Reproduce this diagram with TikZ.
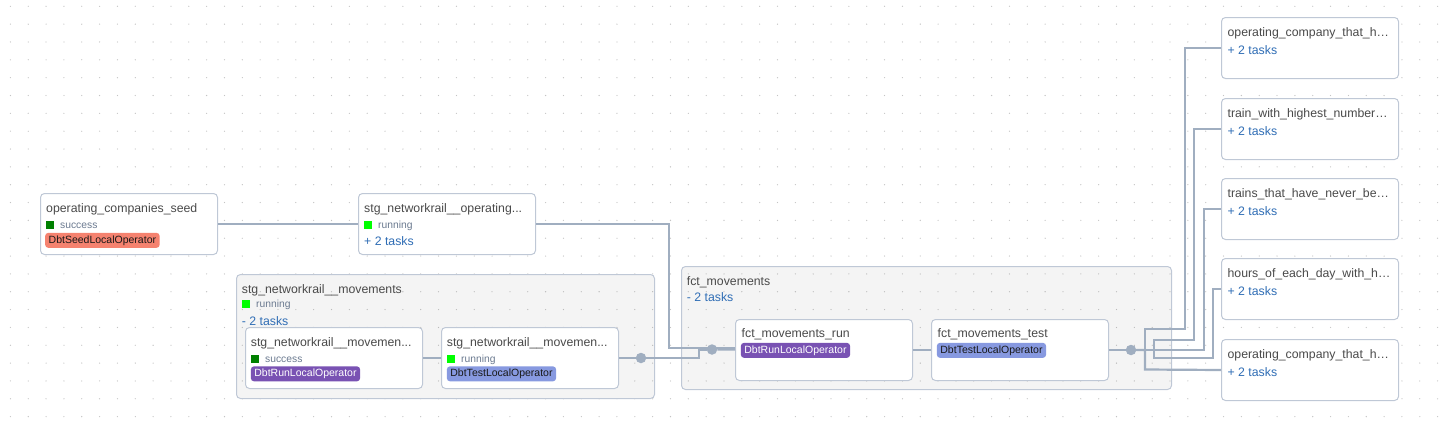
\documentclass[tikz,border=0pt]{standalone}
\usepackage{fontspec}
\setmainfont{Liberation Sans}
\usetikzlibrary{positioning}
\definecolor{dotgray}{HTML}{C4C4C4}
\definecolor{boxgray}{HTML}{BFC8D6}
\definecolor{edgegray}{HTML}{A0AEC0}
\definecolor{titlegray}{HTML}{4A4A4A}
\definecolor{statusgray}{HTML}{6B7A90}
\definecolor{linkblue}{HTML}{2F6DB5}
\definecolor{okgreen}{HTML}{008000}
\definecolor{rungreen}{HTML}{00FF00}
\definecolor{seedop}{HTML}{F5826F}
\definecolor{runop}{HTML}{7952B3}
\definecolor{testop}{HTML}{8799E0}
\newcommand{\stsq}[1]{\textcolor{#1}{\rule[-0.8pt]{8pt}{8pt}}\hspace{6.3pt}}
\tikzset{task box/.style={draw=boxgray,fill=white,rounded corners=4pt,line width=1pt,anchor=north west,inner sep=0pt,minimum width=177pt,minimum height=61pt},
  group box/.style={task box,fill=black,fill opacity=0.045,draw opacity=1},
  title/.style={anchor=base west,inner sep=0pt,text=titlegray,font=\fontsize{12.3}{14}\selectfont},
  status/.style={anchor=base west,inner sep=0pt,text=statusgray,font=\fontsize{10.3}{12}\selectfont},
  tasks link/.style={anchor=base west,inner sep=0pt,text=linkblue,font=\fontsize{12.3}{14}\selectfont},
  op badge/.style={anchor=base west,rounded corners=3pt,inner xsep=3.5pt,inner ysep=2.6pt,text height=7.5pt,text depth=2.2pt,font=\fontsize{10.5}{12}\selectfont},
  seed op/.style={op badge,fill=seedop,text=black!90},
  run op/.style={op badge,fill=runop,text=white},
  test op/.style={op badge,fill=testop,text=black!90},
  edge line/.style={draw=edgegray,line width=2.2pt},
  joint/.style={circle,fill=edgegray,minimum size=10.5pt,inner sep=0pt} }
\begin{document}
\begin{tikzpicture}[x=1pt,y=-1pt]
\useasboundingbox (0,0) rectangle (1450,434);
% background grid
\foreach \i in {0,...,80}
  \foreach \j in {0,...,23}
    \fill[dotgray] (10.4+17.84*\i,6.3+17.84*\j) circle (0.65pt);

% task groups
\node[group box,minimum width=418pt,minimum height=124pt] (movgrp) at (236,274) {};
\node[group box,minimum width=490pt,minimum height=123pt] (fctgrp) at (681,266) {};
\node[title] at ([shift={(5.7,19)}]movgrp.north west) {stg\_networkrail\_\_movements};
\node[status] at ([shift={(5.7,33.5)}]movgrp.north west) {\stsq{rungreen}running};
\node[tasks link] at ([shift={(5.7,51)}]movgrp.north west) {- 2 tasks};
\node[title] at ([shift={(5.7,19)}]fctgrp.north west) {fct\_movements};
\node[tasks link] at ([shift={(5.7,35)}]fctgrp.north west) {- 2 tasks};

% tasks
\node[task box] (seed) at (40,193) {};
\node[task box] (stgop) at (358,193) {};
\node[task box] (movrun) at (245,327) {};
\node[task box] (movtest) at (441,327) {};
\node[task box] (fctrun) at (735,319) {};
\node[task box] (fcttest) at (931,319) {};

\node[title] at ([shift={(6,19)}]seed.north west) {operating\_companies\_seed};
\node[status] at ([shift={(5.7,35.5)}]seed.north west) {\stsq{okgreen}success};
\node[seed op] at ([shift={(5,50)}]seed.north west) {DbtSeedLocalOperator};

\node[title] at ([shift={(6,19)}]stgop.north west) {stg\_networkrail\_\_operating...};
\node[status] at ([shift={(5.7,35.5)}]stgop.north west) {\stsq{rungreen}running};
\node[tasks link] at ([shift={(6,52)}]stgop.north west) {+ 2 tasks};

\node[title] at ([shift={(5.7,19)}]movrun.north west) {stg\_networkrail\_\_movemen...};
\node[status] at ([shift={(5.7,35)}]movrun.north west) {\stsq{okgreen}success};
\node[run op] at ([shift={(5.7,49.5)}]movrun.north west) {DbtRunLocalOperator};

\node[title] at ([shift={(5.7,19)}]movtest.north west) {stg\_networkrail\_\_movemen...};
\node[status] at ([shift={(5.7,35)}]movtest.north west) {\stsq{rungreen}running};
\node[test op] at ([shift={(5.7,49.5)}]movtest.north west) {DbtTestLocalOperator};

\node[title] at ([shift={(6.5,18.3)}]fctrun.north west) {fct\_movements\_run};
\node[run op] at ([shift={(5.7,34)}]fctrun.north west) {DbtRunLocalOperator};
\node[title] at ([shift={(6.5,18.3)}]fcttest.north west) {fct\_movements\_test};
\node[test op] at ([shift={(5.7,34)}]fcttest.north west) {DbtTestLocalOperator};

% downstream task groups
\foreach \n/\y/\t in {r1/17/operating\_company\_that\_h\dots,r2/98/train\_with\_highest\_number\dots,r3/178/trains\_that\_have\_never\_be\dots,r4/258/hours\_of\_each\_day\_with\_h\dots,r5/339/operating\_company\_that\_h\dots}{
  \node[task box] (\n) at (1221,\y) {};
  \node[title] at ([shift={(6.4,19.3)}]\n.north west) {\t};
  \node[tasks link] at ([shift={(6.4,37)}]\n.north west) {+ 2 tasks};
}

% connectors
\node[joint] (j1) at (641,358) {};
\node[joint] (j2) at (712,349.5) {};
\node[joint] (j3) at (1131,350) {};
\draw[edge line] (seed) -- (stgop);
\draw[edge line] (movrun) -- (movtest);
\draw[edge line] (movtest) -- (j1);
\draw[edge line] (j1) -- ++(58,0) |- (j2);
\draw[edge line] (stgop.east) -- ++(133,0) |- ([yshift=2pt]fctrun.west);
\draw[edge line] (j2) -- (fctrun);
\draw[edge line] (fctrun) -- (fcttest);
\draw[edge line] (fcttest) -- (j3);
\draw[edge line] (j3) -| (1145,329) -- (1185,329) |- (r1.west);
\draw[edge line] (j3) -| (1154,340) -- (1194,340) |- (r2.west);
\draw[edge line] (j3) -- (1204,350) |- (r3.west);
\draw[edge line] (j3) -| (1154,358) -- (1213,358) |- (r4.west);
\draw[edge line] (j3) -| (1145,369.5) -- (r5.west);
\end{tikzpicture}
\end{document}
